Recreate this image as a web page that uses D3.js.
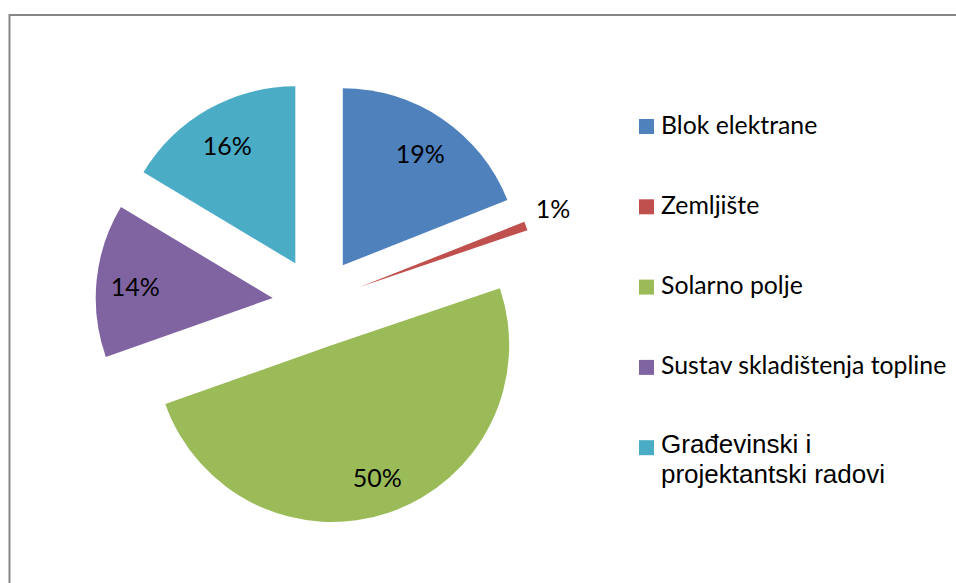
<!DOCTYPE html>
<html>
<head>
<meta charset="utf-8">
<script src="https://cdn.jsdelivr.net/npm/d3@7"></script>
<style>
  html, body { margin: 0; padding: 0; background: #fff; }
  svg { display: block; }
</style>
</head>
<body>
<svg id="chart" width="956" height="583"></svg>
<script>
// Cost structure categories and their shares (%)
const categories = [
  "Blok elektrane",
  "Zemljište",
  "Solarno polje",
  "Sustav skladištenja topline",
  "Građevinski i projektantski radovi"
];
const shares = [19.0, 0.8, 49.8, 14.0, 16.4];
// Legend text as it wraps in the legend box
const legendLines = [
  ["Blok elektrane"],
  ["Zemljište"],
  ["Solarno polje"],
  ["Sustav skladištenja topline"],
  ["Građevinski i", "projektantski radovi"]
];
const palette = ["#4F81BD", "#C0504D", "#9BBB59", "#8064A2", "#4BACC6"];

const svg = d3.select("#chart");
const W = 956, H = 583;

// chart area frame
svg.append("rect")
  .attr("x", 9.5).attr("y", 15)
  .attr("width", W + 20).attr("height", H + 20)
  .attr("fill", "#fff")
  .attr("stroke", "#868686")
  .attr("stroke-width", 2);

const cx = 317.5, cy = 302.5, R = 177, explode = 45;
const bodyFont = "Lato, Carlito, Calibri, sans-serif";

const color = d3.scaleOrdinal().domain(categories).range(palette);
const pie = d3.pie().sort(null).value(d => d)
  .startAngle(0).endAngle(2 * Math.PI);
const arcs = pie(shares);
const total = d3.sum(shares);
const pct = d3.format(".0%");
const arc = d3.arc().innerRadius(0).outerRadius(R);

const g = svg.append("g").attr("transform", `translate(${cx},${cy})`);

const slice = g.selectAll("g.slice")
  .data(arcs)
  .join("g")
  .attr("class", "slice")
  .attr("transform", d => {
    const m = (d.startAngle + d.endAngle) / 2;
    return `translate(${Math.sin(m) * explode},${-Math.cos(m) * explode})`;
  });

slice.append("path")
  .attr("d", arc)
  .attr("fill", (d, i) => color(categories[i]));

// data labels: inside for wide slices, just outside the arc for thin ones
slice.append("text")
  .each(function (d) {
    const m = (d.startAngle + d.endAngle) / 2;
    const sx = Math.sin(m), sy = -Math.cos(m);
    const t = d3.select(this);
    if (d.endAngle - d.startAngle > 0.2) {
      t.attr("x", sx * R * 0.78).attr("y", sy * R * 0.78 + 3)
        .attr("dy", "0.35em").attr("text-anchor", "middle");
    } else {
      const px = sx * R * 1.06, py = sy * R * 1.06;
      t.attr("x", px + (sx >= 0 ? 0 : -1))
        .attr("y", sy < 0 ? py - 4 : py + 18)
        .attr("text-anchor", sx >= 0 ? "start" : "end");
    }
  })
  .attr("font-family", bodyFont)
  .attr("font-size", 25)
  .attr("fill", "#000")
  .text(d => pct(d.data / total));

// legend
const legend = svg.append("g");
const legendY = d3.scalePoint().domain(categories).range([133.5, 454.7]);
const item = legend.selectAll("g.item")
  .data(categories)
  .join("g")
  .attr("class", "item")
  .attr("transform", d => `translate(639,${legendY(d)})`);

item.append("rect")
  .attr("x", 0).attr("y", -14.5)
  .attr("width", 15).attr("height", 15)
  .attr("fill", d => color(d));

item.append("text")
  .attr("x", 22)
  .attr("font-family", (d, i) => i === 4 ? "'Liberation Sans', Arial, sans-serif" : bodyFont)
  .attr("font-size", (d, i) => i === 4 ? 26 : 24.8)
  .attr("fill", "#000")
  .each(function (d, i) {
    const lines = legendLines[i];
    d3.select(this).selectAll("tspan")
      .data(lines)
      .join("tspan")
      .attr("x", 22)
      .attr("y", (l, j) => (i === 4 ? -2 : 0) + j * 30.6)
      .text(l => l);
  });
</script>
</body>
</html>
